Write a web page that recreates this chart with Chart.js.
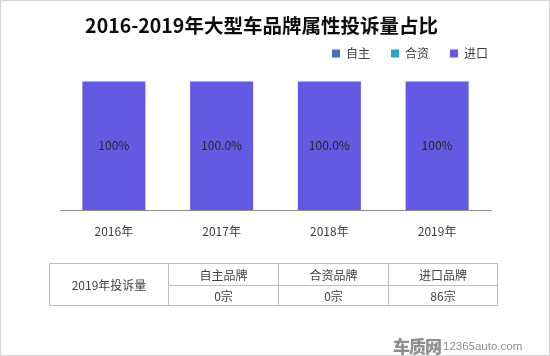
<!DOCTYPE html>
<html>
<head>
<meta charset="utf-8">
<script src="https://cdn.jsdelivr.net/npm/chart.js@4"></script>
<style>
html,body{margin:0;padding:0;background:#fff;}
#wrap{position:relative;width:550px;height:356px;overflow:hidden;font-family:"Noto Sans CJK SC","Microsoft YaHei",sans-serif;}
#c{position:absolute;left:0;top:0;}
#frame{position:absolute;left:0;top:0;width:550px;height:356px;box-sizing:border-box;border:1px solid #d4d4d4;pointer-events:none;}
#tbl{position:absolute;left:49px;top:263px;border-collapse:collapse;font-size:12px;color:#404040;}
#tbl td{border:1px solid #bfbfbf;text-align:center;padding:0;line-height:1;}
#logo{position:absolute;left:393px;top:331px;color:#8f8f8f;white-space:nowrap;}
#logo .cn{font-size:17px;font-weight:900;letter-spacing:-1px;vertical-align:middle;}
#logo .en{font-family:Arial,"Liberation Sans",sans-serif;font-size:11.5px;vertical-align:middle;margin-left:2px;}
</style>
</head>
<body>
<div id="wrap">
<canvas id="c" width="550" height="356"></canvas>
<table id="tbl">
<tr style="height:22px"><td rowspan="2" style="width:118px" id="t0"></td><td style="width:109px" id="h0"></td><td style="width:109px" id="h1"></td><td style="width:108px" id="h2"></td></tr>
<tr style="height:20px"><td id="v0"></td><td id="v1"></td><td id="v2"></td></tr>
</table>
<div id="logo"><span class="cn">车质网</span><span class="en">12365auto.com</span></div>
<div id="frame"></div>
</div>
<script>
const chartTitle = '2016-2019年大型车品牌属性投诉量占比';
const categories = ['2016年', '2017年', '2018年', '2019年'];
const seriesNames = ['自主', '合资', '进口'];
const seriesColors = ['#4472C4', '#25AABE', '#635AE3'];
const selfBrand = [0, 0, 0, 0];
const jointBrand = [0, 0, 0, 0];
const importBrand = [100, 100, 100, 100];
const barLabels = ['100%', '100.0%', '100.0%', '100%'];
const tableTitle = '2019年投诉量';
const tableHeaders = ['自主品牌', '合资品牌', '进口品牌'];
const tableValues = ['0宗', '0宗', '86宗'];

document.getElementById('t0').textContent = tableTitle;
tableHeaders.forEach((h, i) => document.getElementById('h' + i).textContent = h);
tableValues.forEach((v, i) => document.getElementById('v' + i).textContent = v);

Chart.defaults.font.family = '"Noto Sans CJK SC","Microsoft YaHei",sans-serif';

const barLabelPlugin = {
  id: 'barLabels',
  afterDatasetsDraw(chart) {
    const meta = chart.getDatasetMeta(2);
    const ctx = chart.ctx;
    ctx.save();
    ctx.font = '12px "Noto Sans CJK SC",sans-serif';
    ctx.fillStyle = '#262626';
    ctx.textAlign = 'center';
    ctx.textBaseline = 'middle';
    meta.data.forEach((bar, i) => {
      const cy = (bar.y + bar.base) / 2;
      ctx.fillText(barLabels[i], bar.x, cy);
    });
    ctx.restore();
  }
};

new Chart(document.getElementById('c'), {
  type: 'bar',
  data: {
    labels: categories,
    datasets: [
      { label: seriesNames[0], data: selfBrand, backgroundColor: seriesColors[0] },
      { label: seriesNames[1], data: jointBrand, backgroundColor: seriesColors[1] },
      { label: seriesNames[2], data: importBrand, backgroundColor: seriesColors[2] }
    ]
  },
  options: {
    responsive: false,
    animation: false,
    devicePixelRatio: 1,
    categoryPercentage: 1,
    barPercentage: 0.585,
    layout: { padding: { left: 14, right: 41, top: 2, bottom: 103.6 } },
    plugins: {
      title: {
        display: true,
        text: chartTitle,
        color: '#0d0d0d',
        font: { size: 19.5, weight: 'bold' },
        padding: { top: 12, bottom: -11 }
      },
      legend: {
        display: true,
        align: 'end',
        labels: {
          boxWidth: 8,
          boxHeight: 8,
          padding: 21,
          color: '#404040',
          font: { size: 12 }
        }
      },
      tooltip: { enabled: false }
    },
    scales: {
      x: {
        stacked: true,
        grid: { display: true, drawOnChartArea: false, drawTicks: false },
        border: { display: true, color: '#8c8c8c', width: 1 },
        ticks: { padding: 14, color: '#404040', font: { size: 12 } }
      },
      y: {
        stacked: true,
        min: 0,
        max: 109.4,
        ticks: { display: false },
        grid: { display: false },
        border: { display: false },
        afterFit(s) { s.width = 46; }
      },
      y2: {
        position: 'right',
        min: 0,
        max: 100,
        ticks: { display: false },
        grid: { display: false },
        border: { display: false },
        afterFit(s) { s.width = 18; }
      }
    }
  },
  plugins: [barLabelPlugin]
});
</script>
</body>
</html>
